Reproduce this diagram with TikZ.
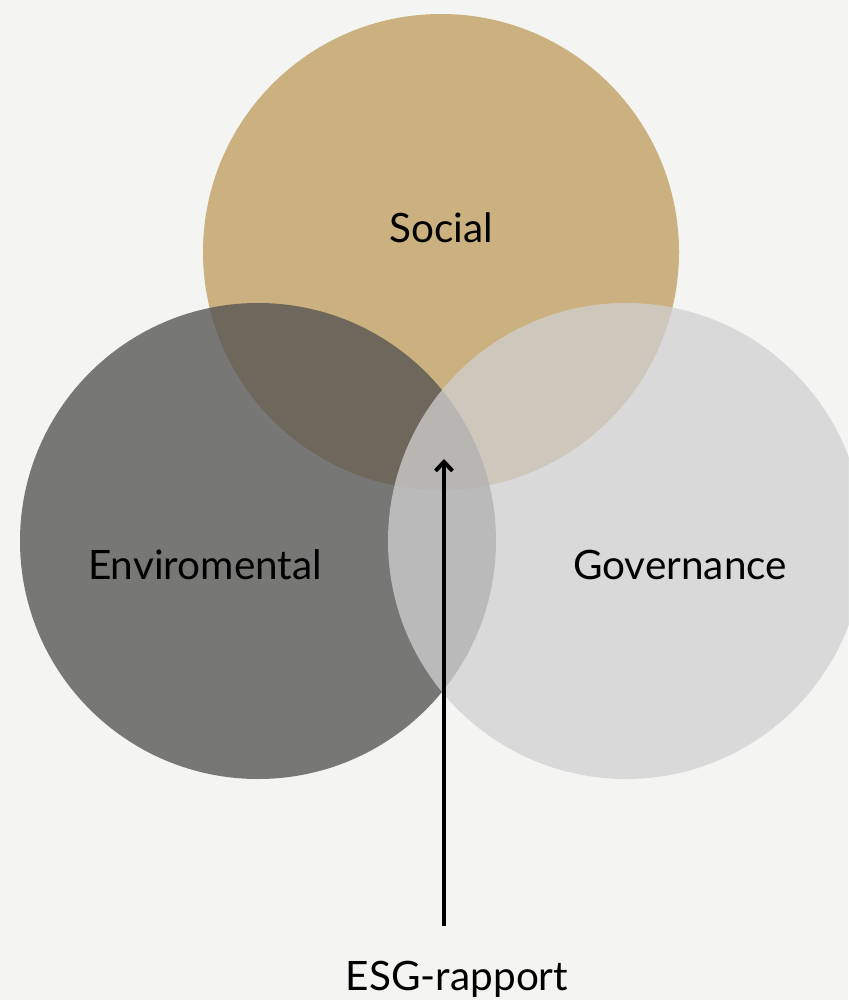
\documentclass[tikz,border=0pt]{standalone}
\usepackage{fontspec}
\setmainfont{Lato}
\usetikzlibrary{arrows.meta}
\definecolor{bgcol}{HTML}{F4F4F2}
\definecolor{soccol}{HTML}{CBB17F}
\definecolor{envcol}{HTML}{545453}
\definecolor{govcol}{HTML}{D0D1D1}
\tikzset{ring/.style={circle, minimum size=476pt, inner sep=0pt},
  label/.style={font=\fontsize{40.5}{48}\selectfont, text=black}}

\begin{document}
\begin{tikzpicture}[x=1pt, y=-1pt]
\fill[bgcol] (0,0) rectangle (848,1000);
\useasboundingbox (0,0) rectangle (848,1000);
\node[ring, fill=soccol] (soc) at (441,252) {};
\node[ring, fill=envcol, fill opacity=0.78] (env) at (258,541) {};
\node[ring, fill=govcol, fill opacity=0.75] (gov) at (626,541) {};
\node[label] (soctext) at (441,228) {Social};
\node[label] (envtext) at (205,565) {Enviromental};
\node[label] (govtext) at (680,565) {Governance};
\node[label] (esg) at (457,979) {ESG-rapport};
\coordinate (tail) at (444,926);
\coordinate (tip) at (444,459);
\draw[-{Straight Barb[length=9pt,width=17pt]}, line width=4pt] (tail) -- (tip);
\end{tikzpicture}
\end{document}
